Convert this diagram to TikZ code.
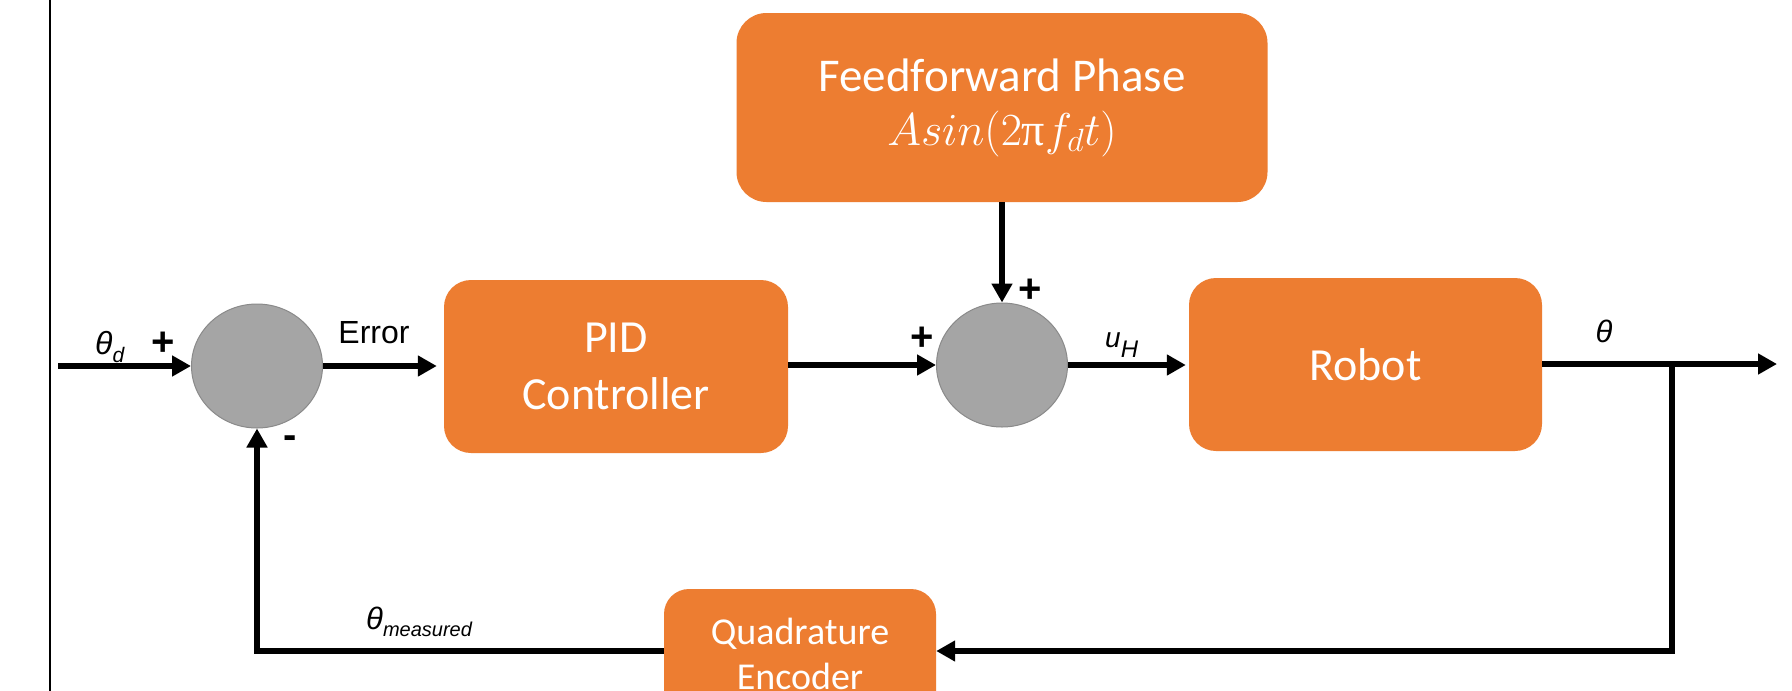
\documentclass[tikz,border=0pt]{standalone}
\usepackage{fix-cm}
\usepackage{fontspec}
\setmainfont{Liberation Sans}
\newfontfamily\boxfont{Carlito}
\newfontfamily\pifont{Liberation Serif}
\usetikzlibrary{arrows.meta,shapes.geometric}
\definecolor{boxorange}{HTML}{ED7D31}
\definecolor{sumgray}{HTML}{A5A5A5}
\definecolor{sumedge}{HTML}{8A8A8A}
\tikzset{
  blk/.style={rectangle, rounded corners=27pt, fill=boxorange, text=white, inner sep=0pt, align=center, font=\boxfont\fontsize{46}{57}\selectfont},
  sumnode/.style={ellipse, fill=sumgray, draw=sumedge, line width=1pt, minimum width=131pt, minimum height=124pt, inner sep=0pt},
  arr/.style={line width=5.5pt, -{Triangle[length=19pt,width=20pt]}},
  lbl/.style={inner sep=0pt, font=\fontsize{32}{38}\selectfont},
  pluslbl/.style={inner sep=0pt, font=\bfseries\fontsize{40}{44}\selectfont},
}
\begin{document}
\begin{tikzpicture}[x=1pt,y=-1pt]
\clip (0,0) rectangle (1792,691);
\fill[white] (0,0) rectangle (1792,691);
\draw[line width=2.5pt] (50,0) -- (50,691);

% summing junctions
\node[sumnode] (s1) at (257,366) {};
\node[sumnode] (s2) at (1002,365) {};

% blocks
\node[blk, minimum width=344pt, minimum height=173pt] (pid) at (616,366.5) {PID\\Controller};
\node[blk, rounded corners=30pt, minimum width=531pt, minimum height=189pt, font=\boxfont\fontsize{47}{54}\selectfont] (ff) at (1002,107.5)
  {Feedforward Phase\\ \fontsize{46}{54}\selectfont $A sin(2${\pifont π}$f_d t)$};
\node[blk, minimum width=353pt, minimum height=173pt] (rob) at (1365.5,364.5) {Robot};
\node[blk, rounded corners=25pt, font=\boxfont\fontsize{38}{45}\selectfont, minimum width=272pt, minimum height=130pt] (qe) at (800,654) {Quadrature\\Encoder};

% connectors
\coordinate (in) at (58,366);
\coordinate (out) at (1777,364);
\coordinate (br) at (1672,364);
\coordinate (fb) at (1672,651);
\draw[arr] (in) -- (s1.west);
\draw[arr, shorten >=7pt] (s1.east) -- (pid.west |- s1.east);
\draw[arr] (pid.east |- s2.west) -- (s2.west);
\draw[arr] (ff.south) -- (s2.north);
\draw[arr, shorten >=3pt] (s2.east) -- (rob.west |- s2.east);
\draw[arr] (rob.east |- out) -- (out);
\draw[arr] (br) -- (fb) -- (qe.east |- fb);
\draw[arr] (qe.west |- fb) -| (s1.south);

% labels
\node[lbl, anchor=base west] (thd) at (95,354) {\itshape θ\raisebox{-0.28em}{\fontsize{21}{21}\selectfont d}};
\node[pluslbl] (p1) at (163,343.5) {+};
\node[lbl, anchor=base] (err) at (374,343) {Error};
\node[pluslbl] (m1) at (290,442.5) {-};
\node[pluslbl] (p2) at (922,338.5) {+};
\node[pluslbl] (p3) at (1030,291) {+};
\node[inner sep=0pt, anchor=base west, font=\fontsize{28}{32}\selectfont] (uh) at (1105,347) {\itshape u\raisebox{-0.39em}{\fontsize{24}{24}\selectfont H}};
\node[inner sep=0pt, anchor=base, font=\fontsize{31}{36}\selectfont] (th) at (1604,342) {\itshape θ};
\node[inner sep=0pt, anchor=base west, font=\fontsize{31}{36}\selectfont] (thm) at (366,629) {\itshape θ\raisebox{-0.25em}{\fontsize{20}{20}\selectfont measured}};
\end{tikzpicture}
\end{document}
